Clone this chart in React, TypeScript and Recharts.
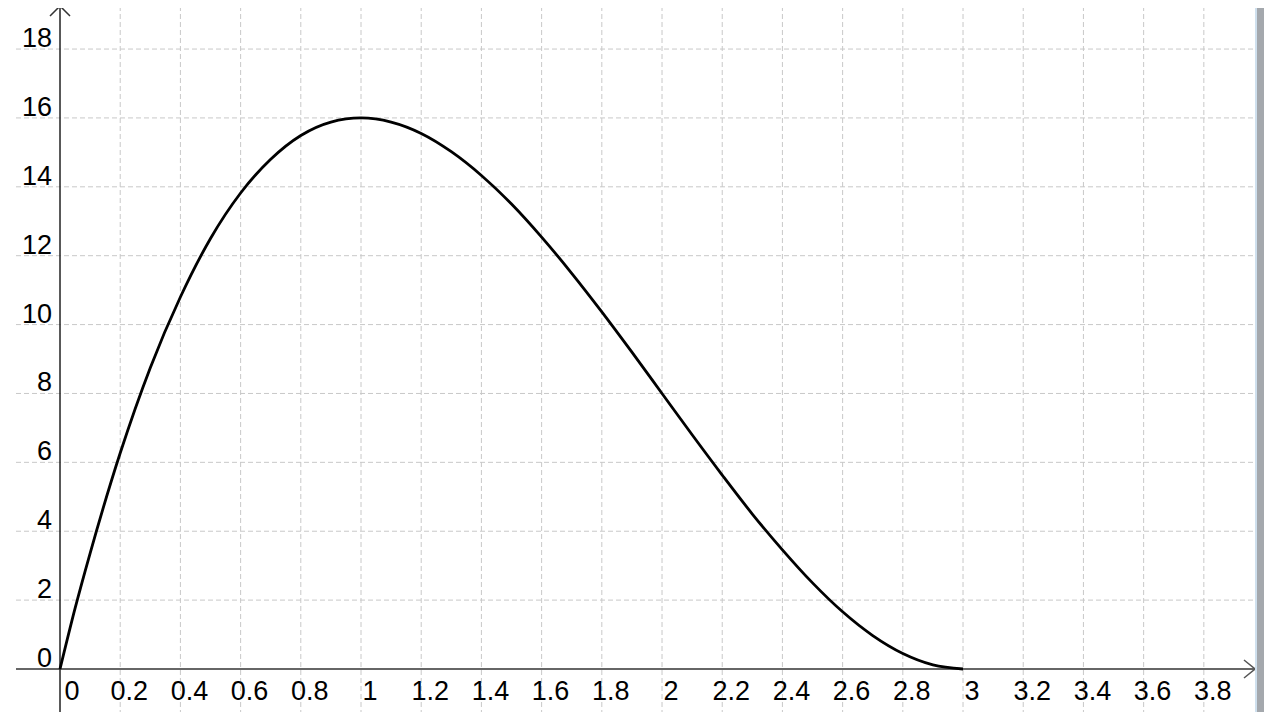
import React from "react";
import { CartesianGrid, Line, LineChart, ReferenceDot, ReferenceLine, XAxis, YAxis } from "recharts";

// curve, x step 0.1
const xs = [0, 0.05, 0.1, 0.2, 0.3, 0.4, 0.5, 0.6, 0.7, 0.8, 0.9, 1, 1.1, 1.2, 1.3, 1.4, 1.5, 1.6, 1.7, 1.8, 1.9, 2, 2.1, 2.2, 2.3, 2.4, 2.5, 2.6, 2.7, 2.8, 2.9, 3];
const ys = [0, 1.76, 3.36, 6.27, 8.75, 10.8, 12.5, 13.82, 14.8, 15.49, 15.88, 16, 15.88, 15.55, 15.02, 14.33, 13.5, 12.54, 11.49, 10.37, 9.2, 8.0, 6.8, 5.63, 4.5, 3.46, 2.5, 1.66, 0.97, 0.45, 0.12, 0];

const xTicks = [0, 0.2, 0.4, 0.6, 0.8, 1, 1.2, 1.4, 1.6, 1.8, 2, 2.2, 2.4, 2.6, 2.8, 3, 3.2, 3.4, 3.6, 3.8];
const yTicks = [0, 2, 4, 6, 8, 10, 12, 14, 16, 18];

const data = xs.map((x, i) => ({ x, y: ys[i] }));

const FONT = "'Liberation Sans', Arial, sans-serif";

const pos = (p: any) => {
  const vb = p.viewBox || {};
  return { x: vb.cx ?? vb.x ?? p.x ?? 0, y: vb.cy ?? vb.y ?? p.y ?? 0 };
};

const xLabel = (v: number) => (p: any) => {
  const { x, y } = pos(p);
  return (
    <text x={x + (v === 0 ? 12 : 9)} y={y + 31} textAnchor="middle" fontSize={27} fontFamily={FONT} fill="#000">
      {String(v)}
    </text>
  );
};

const yLabel = (v: number) => (p: any) => {
  const { x, y } = pos(p);
  return (
    <text x={x - 8} y={y - 2} textAnchor="end" fontSize={27} fontFamily={FONT} fill="#000">
      {String(v)}
    </text>
  );
};

const xAxisShape = (p: any) => {
  const x2 = Math.max(p.x1, p.x2);
  const x1 = Math.min(p.x1, p.x2);
  const y = p.y1;
  return (
    <g>
      <line x1={x1} y1={y} x2={x2} y2={y} stroke="#666" strokeWidth={2} />
      <polyline points={`${x2 - 11},${y - 9} ${x2},${y} ${x2 - 11},${y + 9}`} fill="none" stroke="#555" strokeWidth={1.5} />
    </g>
  );
};

const yAxisShape = (p: any) => {
  const top = Math.min(p.y1, p.y2);
  const bottom = Math.max(p.y1, p.y2);
  const x = p.x1;
  return (
    <g>
      <line x1={x} y1={top} x2={x} y2={bottom} stroke="#222" strokeWidth={1.5} />
      <polyline points={`${x - 10},${top + 10} ${x},${top} ${x + 10},${top + 10}`} fill="none" stroke="#333" strokeWidth={1.5} />
    </g>
  );
};

export default function App() {
  return (
    <div style={{ position: "relative", width: 1280, height: 720, margin: -8, background: "#fff", overflow: "hidden" }}>
      <div style={{ position: "absolute", left: 0, top: 0 }}>
        <LineChart width={1256} height={717} data={data} margin={{ top: 6, right: 1, bottom: 0, left: 16 }}>
          <XAxis dataKey="x" type="number" domain={[-0.1462, 3.97]} allowDataOverflow hide />
          <YAxis type="number" domain={[-1.394, 19.25]} allowDataOverflow hide />
          <CartesianGrid
            stroke="#c8c8c8"
            strokeDasharray="5 3"
            horizontalValues={yTicks.filter((v) => v !== 0)}
            verticalValues={xTicks.filter((v) => v !== 0)}
          />
          <ReferenceLine y={0} shape={xAxisShape} />
          <ReferenceLine x={0} shape={yAxisShape} />
          {xTicks.map((v) => (
            <ReferenceDot key={"x" + v} x={v} y={0} r={0} fill="none" stroke="none" label={xLabel(v)} />
          ))}
          {yTicks.map((v) => (
            <ReferenceDot key={"y" + v} x={0} y={v} r={0} fill="none" stroke="none" label={yLabel(v)} />
          ))}
          <Line type="monotone" dataKey="y" stroke="#000" strokeWidth={2.8} dot={false} isAnimationActive={false} />
        </LineChart>
      </div>
      <div style={{ position: "absolute", left: 0, top: 0, width: 1256, height: 5, background: "#c9c9c9" }} />
      <div style={{ position: "absolute", left: 1255, top: 0, width: 2, height: 720, background: "#cfe0ee" }} />
      <div style={{ position: "absolute", left: 1257, top: 0, width: 7, height: 720, background: "#a4a8ad" }} />
      <div style={{ position: "absolute", left: 0, top: 717, width: 1256, height: 2, background: "#c7d3dd" }} />
    </div>
  );
}
